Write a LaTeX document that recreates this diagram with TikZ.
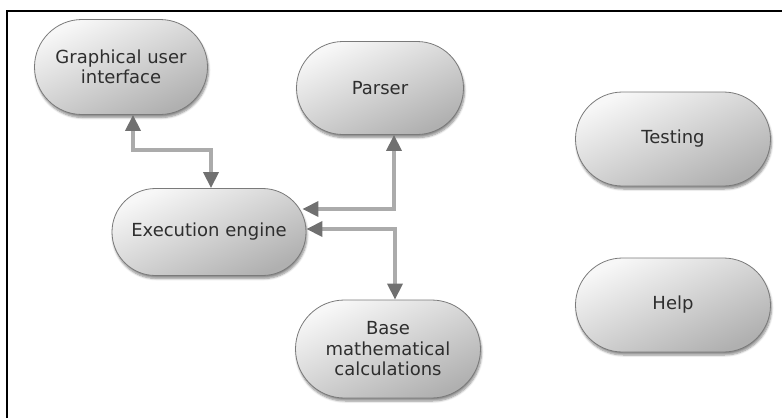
\documentclass[tikz,border=0pt]{standalone}
\usepackage{fontspec}
\setmainfont{DejaVu Sans}
\usetikzlibrary{shapes.misc,arrows.meta,shadows.blur,calc}
\definecolor{linegray}{HTML}{ABABAB}
\definecolor{tipgray}{HTML}{707070}
\definecolor{edgegray}{HTML}{7A7A7A}
\definecolor{textgray}{HTML}{2E2E2E}
\definecolor{lighttop}{HTML}{F7F7F7}
\definecolor{darkbottom}{HTML}{B0B0B0}
\tikzset{
  module/.style={rounded rectangle, draw=edgegray, line width=0.8bp,
    top color=lighttop, bottom color=darkbottom, shading angle=25,
    text=textgray, align=center, inner sep=0pt,
    font=\fontsize{18bp}{20.5bp}\selectfont,
    blur shadow={shadow xshift=1bp, shadow yshift=-3bp, shadow blur steps=6, shadow opacity=45}},
  link/.style={draw=linegray, line width=3.5bp,
    {Triangle[length=16bp,width=15bp,color=tipgray]}-{Triangle[length=16bp,width=15bp,color=tipgray]}},
}
\begin{document}
\begin{tikzpicture}[x=1bp,y=-1bp]
  \useasboundingbox (0,0) rectangle (782,418);
  % frame edges
  \draw[black, line width=2bp] (7,418) -- (7,11) -- (782,11);

  \node[module, minimum width=173bp, minimum height=95bp] (gui) at (121,67) {Graphical user\\interface};
  \node[module, minimum width=167bp, minimum height=93bp] (parser) at (380,88) {Parser};
  \node[module, minimum width=195bp, minimum height=94bp] (testing) at (673,139) {Testing};
  \node[module, minimum width=194bp, minimum height=87bp] (exec) at (209,232) {Execution engine};
  \node[module, minimum width=185bp, minimum height=98bp] (base) at (388,349) {Base\\mathematical\\calculations};
  \node[module, minimum width=195bp, minimum height=94bp] (help) at (673,305) {Help};

  % connectors
  \draw[link] ([xshift=12bp]gui.south) -- ++(0,35) -| ([xshift=2bp]exec.north);
  \draw[link] ([xshift=14bp]parser.south) |- ([xshift=-4bp,yshift=23bp]exec.east);
  \draw[link] ([yshift=3bp]exec.east) -| ([xshift=7bp]base.north);
\end{tikzpicture}
\end{document}
